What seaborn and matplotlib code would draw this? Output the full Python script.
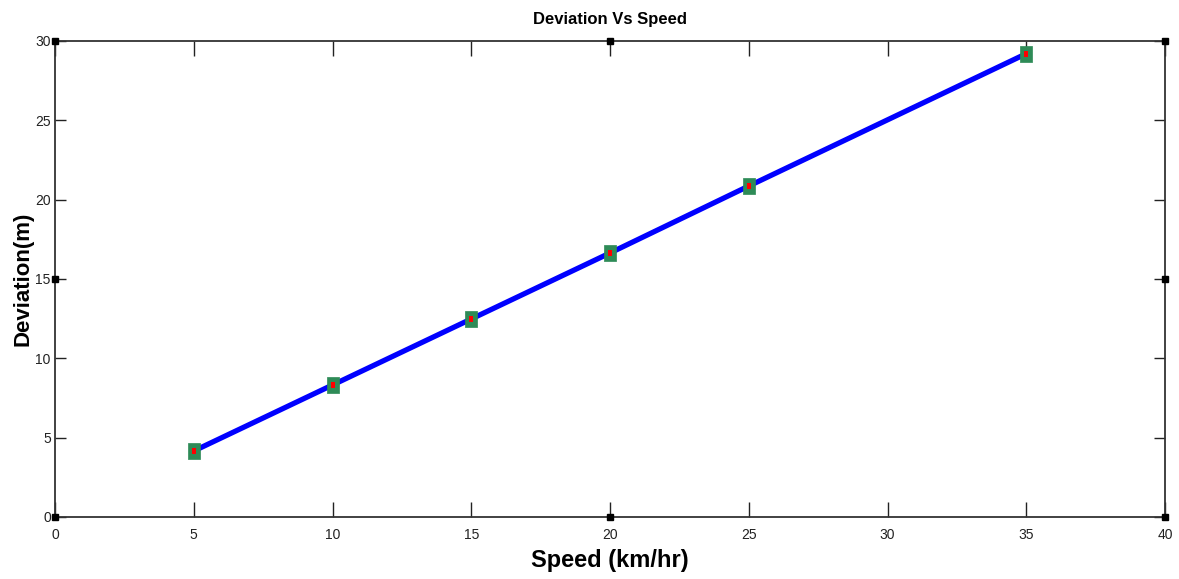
import matplotlib
matplotlib.use("Agg")
import matplotlib.pyplot as plt
import seaborn as sns
import pandas as pd

speed = [5, 10, 15, 20, 25, 35]
deviation = [4.16, 8.32, 12.48, 16.64, 20.86, 29.2]
x_ticks = [0, 5, 10, 15, 20, 25, 30, 35, 40]
y_ticks = [0, 5, 10, 15, 20, 25, 30]

sns.set_theme(style="white")
plt.rcParams['font.family'] = ['Liberation Sans Narrow', 'Liberation Sans', 'DejaVu Sans']
plt.rcParams['text.color'] = 'black'

df = pd.DataFrame({"Speed": speed, "Deviation": deviation})

rect = [(-0.35, -0.5), (0.35, -0.5), (0.35, 0.5), (-0.35, 0.5), (-0.35, -0.5)]

fig = plt.figure(figsize=(11.79, 5.79), dpi=100)
ax = fig.add_axes([55/1179, 1 - 517/579, (1165-55)/1179, (517-41)/579])

sns.lineplot(data=df, x="Speed", y="Deviation", ax=ax, color="#0000ff", linewidth=3.8,
             marker=rect, markersize=11.5, markerfacecolor="#2e8b57", markeredgecolor="#2e8b57",
             markeredgewidth=0.5, zorder=3)
sns.scatterplot(data=df, x="Speed", y="Deviation", ax=ax, color="red", marker=rect, s=14,
                linewidth=0, zorder=4)

ax.set_xlim(0, 40)
ax.set_ylim(0, 30)
ax.set_xticks(x_ticks)
ax.set_yticks(y_ticks)
ax.set_xticklabels([str(t) for t in x_ticks])
ax.set_yticklabels([str(t) for t in y_ticks])
ax.tick_params(axis="x", direction="in", length=11, width=1, colors="#222222", labelcolor="#222222",
               labelsize=10, top=True, bottom=True, pad=8)
ax.tick_params(axis="y", direction="in", length=8, width=1, colors="#222222", labelcolor="#222222",
               labelsize=10, left=True, right=True, pad=3)
for s in ax.spines.values():
    s.set_color("#333333")
    s.set_linewidth(1.3)

ax.set_title("Deviation Vs Speed", fontsize=12, fontweight="bold", pad=12, color="black")
ax.set_xlabel("Speed (km/hr)", fontsize=17, fontweight="bold", labelpad=5, color="black")
ax.set_ylabel("Deviation(m)", fontsize=16, fontweight="bold", labelpad=1, color="black",
              family=["Liberation Sans", "DejaVu Sans"])

# selection handles (figure edit-mode decorations)
hx = [0, 0.5, 1, 0, 1, 0, 0.5, 1]
hy = [1, 1, 1, 0.5, 0.5, 0, 0, 0]
ax.plot(hx, hy, linestyle="none", marker="s", markersize=5, color="black",
        transform=ax.transAxes, clip_on=False, zorder=5)

fig.savefig("out.png", dpi=100)
